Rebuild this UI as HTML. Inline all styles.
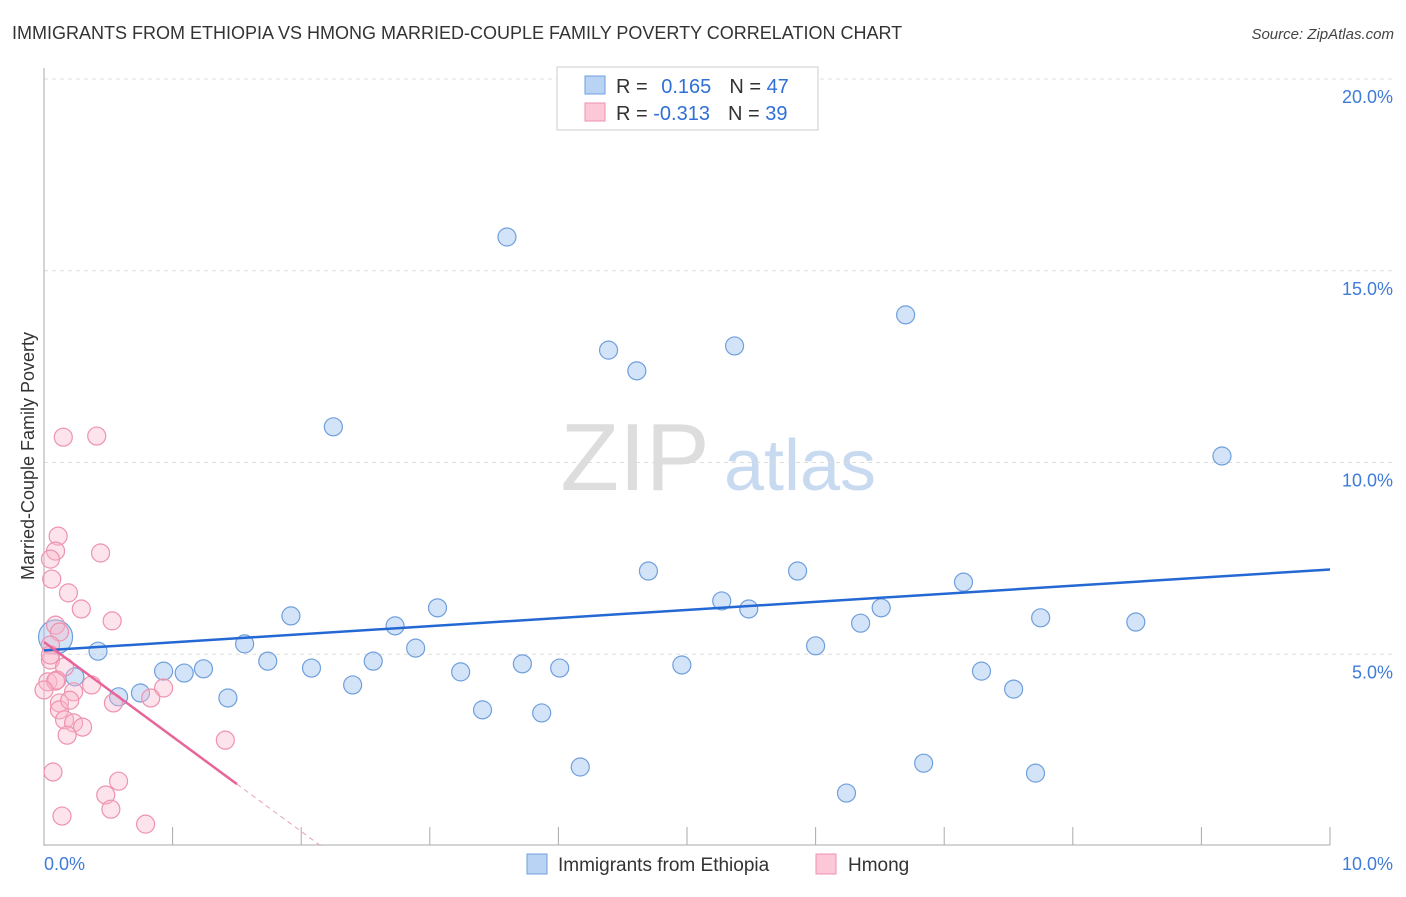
<!DOCTYPE html>
<html><head><meta charset="utf-8"><style>
body{margin:0;background:#fff;font-family:"Liberation Sans",sans-serif}
svg text{font-family:"Liberation Sans",sans-serif}
</style></head><body>
<svg id="chart" width="1406" height="892" xmlns="http://www.w3.org/2000/svg">
<text x="12" y="39" font-size="18" fill="#333">IMMIGRANTS FROM ETHIOPIA VS HMONG MARRIED-COUPLE FAMILY POVERTY CORRELATION CHART</text>
<text x="1394" y="39" font-size="15" fill="#444" text-anchor="end" font-style="italic">Source: ZipAtlas.com</text>
<text transform="translate(34,456) rotate(-90)" font-size="18" fill="#333" text-anchor="middle">Married-Couple Family Poverty</text>
<g>
<text x="635" y="490" font-size="96" fill="#ddd" text-anchor="middle" font-family="Liberation Serif">ZIP</text>
<text x="800" y="490" font-size="72" fill="#c8daf0" text-anchor="middle">atlas</text>
</g>
<g id="grid"></g><g id="axes"></g><g id="pts"></g><g id="trend"></g>
<g>
<rect x="557" y="67" width="261" height="63" fill="#fff" stroke="#ccc"/>
<rect x="585" y="76" width="20" height="18" fill="#b9d3f5" stroke="#6f9fdc"/>
<rect x="585" y="103" width="20" height="18" fill="#fcc8d8" stroke="#ee92ae"/>
<text x="616" y="93" font-size="20" fill="#333">R = <tspan fill="#2f6fd6" dx="8">0.165</tspan><tspan fill="#333" dx="18">N = </tspan><tspan fill="#2f6fd6">47</tspan></text>
<text x="616" y="120" font-size="20" fill="#333">R = <tspan fill="#2f6fd6">-0.313</tspan><tspan fill="#333" dx="18">N = </tspan><tspan fill="#2f6fd6">39</tspan></text>
</g>
<g>
<rect x="527" y="854" width="20" height="20" fill="#b9d3f5" stroke="#6f9fdc"/>
<text x="558" y="871" font-size="19" fill="#333">Immigrants from Ethiopia</text>
<rect x="816" y="854" width="20" height="20" fill="#fcc8d8" stroke="#ee92ae"/>
<text x="848" y="871" font-size="19" fill="#333">Hmong</text>
</g>
</svg>
<script>
const blueX=[3.60,4.39,4.61,5.37,6.70,2.25,9.16,4.70,5.86,7.15,5.27,5.48,6.51,3.06,1.92,7.75,6.35,8.49,2.73,1.56,6.00,2.89,0.42,1.74,2.56,2.08,3.72,4.01,4.96,0.93,1.09,1.24,3.24,0.24,7.29,2.40,7.54,0.75,0.58,1.43,3.41,3.87,4.17,6.84,7.71,6.24,0.09];
const blueY=[15.88,12.93,12.39,13.04,13.85,10.93,10.17,7.17,7.17,6.88,6.39,6.18,6.21,6.21,6.00,5.95,5.81,5.84,5.74,5.27,5.22,5.16,5.08,4.82,4.82,4.64,4.75,4.64,4.72,4.56,4.51,4.62,4.54,4.41,4.56,4.20,4.09,3.99,3.89,3.86,3.55,3.47,2.06,2.16,1.90,1.38,5.45];
const pinkX=[0.15,0.41,0.11,0.09,0.44,0.05,0.06,0.19,0.29,0.53,0.09,0.12,0.05,0.05,0.16,0.03,0.10,0.37,0.93,0.23,0.83,0.12,0.54,0.12,0.16,0.23,0.30,0.18,1.41,0.07,0.58,0.48,0.52,0.14,0.79,0.05,0.09,0.20,0.00];
const pinkY=[10.66,10.69,8.08,7.69,7.64,7.48,6.96,6.60,6.18,5.87,5.76,5.58,5.24,4.85,4.67,4.28,4.33,4.20,4.12,4.02,3.86,3.73,3.73,3.55,3.29,3.21,3.10,2.89,2.76,1.93,1.69,1.33,0.96,0.78,0.57,4.98,4.30,3.80,4.07];
const blueTrend=[5.10,7.21];
const pinkTrend=[5.32,-2.47];
const yTicks=[5,10,15,20];
const yTickLabels=["5.0%","10.0%","15.0%","20.0%"];
const xTicks=[0,1,2,3,4,5,6,7,8,9,10];
const NS="http://www.w3.org/2000/svg";
const X=v=>44+v*128.6, Y=v=>846-v*38.35;
function mk(p,t,a){const e=document.createElementNS(NS,t);for(const k in a)e.setAttribute(k,a[k]);document.getElementById(p).appendChild(e);return e;}
yTicks.forEach((t,i)=>{
 const g=mk('grid','line',{x1:44,x2:1394,y1:Y(t),y2:Y(t),stroke:'#ddd','stroke-dasharray':'4,4'});
 
 
 const l=mk('grid','text',{x:1393,y:Y(t)+24,'font-size':18,fill:'#3f7bd8','text-anchor':'end'});l.textContent=yTickLabels[i];
 
 
});
const ax=mk('axes','line',{x1:44,x2:44,y1:68,y2:846,stroke:'#aaa'});


const bx=mk('axes','line',{x1:44,x2:1330,y1:845,y2:845,stroke:'#aaa'});


xTicks.forEach(t=>{if(t===0)return;const e=mk('axes','line',{x1:X(t),x2:X(t),y1:827,y2:845,stroke:'#aaa'});
 
 });
const x0=mk('axes','text',{x:44,y:870,'font-size':18,fill:'#3f7bd8'});x0.textContent='0.0%';


const x1=mk('axes','text',{x:1393,y:870,'font-size':18,fill:'#3f7bd8','text-anchor':'end'});x1.textContent='10.0%';


blueX.forEach((v,i)=>{const r=i===blueX.length-1?17:9;const c=mk('pts','circle',{cx:X(v),cy:Y(blueY[i]),r:r,fill:'rgba(160,195,240,0.45)',stroke:'#6f9fdc','stroke-width':1.2});
 
 });
pinkX.forEach((v,i)=>{const c=mk('pts','circle',{cx:X(v),cy:Y(pinkY[i]),r:9,fill:'rgba(250,185,205,0.4)',stroke:'#ee92ae','stroke-width':1.2});
 
 });
const bt=mk('trend','line',{x1:X(0),y1:Y(blueTrend[0]),x2:X(10),y2:Y(blueTrend[1]),stroke:'#2468d4','stroke-width':2.5});


const pe=-pinkTrend[0]/pinkTrend[1];
const pt=mk('trend','line',{x1:X(0),y1:Y(pinkTrend[0]),x2:X(1.5),y2:Y(pinkTrend[0]+pinkTrend[1]*1.5),stroke:'#e8659a','stroke-width':2.5});


const pd=mk('trend','line',{x1:X(1.5),y1:Y(pinkTrend[0]+pinkTrend[1]*1.5),x2:X(pe),y2:Y(0),stroke:'#e8a0b8','stroke-width':1,'stroke-dasharray':'5,4'});


</script>
</body></html>
